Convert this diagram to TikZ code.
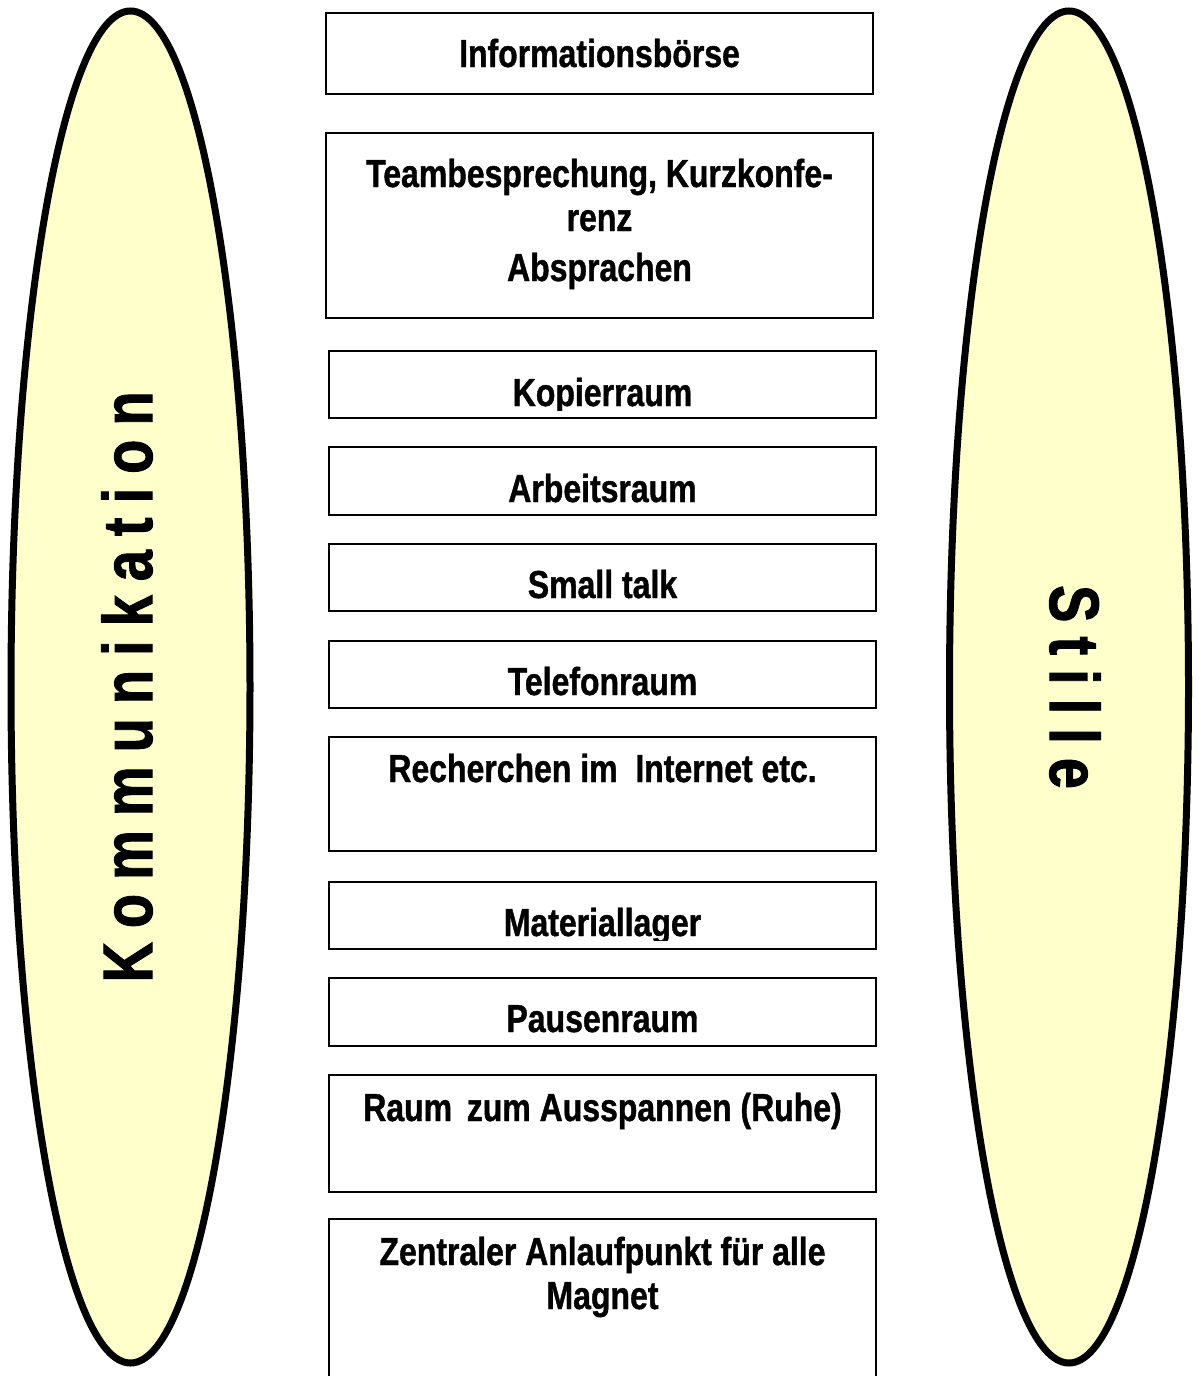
\documentclass[tikz,border=0pt]{standalone}
\usepackage{fontspec}
\usepackage{graphicx}
\usetikzlibrary{shapes.geometric}
\newfontfamily\narrowfont{Liberation Sans}[FakeStretch=0.82, BoldFeatures={FakeBold=1}]
\newfontfamily\spacedfont{Liberation Sans}[LetterSpace=25, BoldFeatures={FakeBold=1.5}]
\definecolor{paleyellow}{RGB}{255,255,204}

\begin{document}
\begin{tikzpicture}[x=0.5pt, y=-0.5pt,
     oval/.style={ellipse, draw, line width=3.5pt, fill=paleyellow, minimum width=119.5pt, minimum height=676pt, inner sep=0pt},
     room/.style={draw, line width=1pt, minimum width=273.5pt, inner sep=0pt},
     roomtext/.style={anchor=base, align=center, inner sep=0pt, font=\narrowfont\bfseries\fontsize{19.5}{22}\selectfont},
     sidetext/.style={inner sep=0pt, font=\spacedfont\bfseries\fontsize{28}{30}\selectfont}]

   \useasboundingbox (0,0) rectangle (1199,1376);

   % the two poles
   \node[oval] (komm) at (130.5,687) {};
   \node[oval] (still) at (1069,687) {};
   \node[sidetext, rotate=90] (kommtext) at (127,687) {\scalebox{1}[1.25]{Kommunikation}};
   \node[sidetext, rotate=-90] (stilltext) at (1075,687) {\scalebox{1}[1.25]{Stille}};

   % the rooms
   \node[room, minimum height=40.5pt] (info) at (599.5,53.5) {};
   \node[roomtext] (infotext) at ([yshift=-27.5pt]info.north) {Informationsbörse};

   \node[room, minimum height=92.5pt] (team) at (599.5,225.5) {};
   \node[roomtext] (teamtext) at ([yshift=-74.5pt]team.north) {Teambesprechung, Kurzkonfe-\\renz\\[3pt]Absprachen};

   \node[room, minimum height=33.5pt] (kopier) at (602.5,384.5) {};
   \begin{scope}
     \clip (kopier.north west) rectangle ([yshift=4.5pt]kopier.south east);
     \node[roomtext] (kopiertext) at ([yshift=-28pt]kopier.north) {Kopierraum};
   \end{scope}

   \node[room, minimum height=34pt] (arbeit) at (602.5,481) {};
   \node[roomtext] (arbeittext) at ([yshift=-28pt]arbeit.north) {Arbeitsraum};

   \node[room, minimum height=33.5pt] (small) at (602.5,577.5) {};
   \node[roomtext] (smalltext) at ([yshift=-27.5pt]small.north) {Small talk};

   \node[room, minimum height=33.5pt] (telefon) at (602.5,674.5) {};
   \node[roomtext] (telefontext) at ([yshift=-27.5pt]telefon.north) {Telefonraum};

   \node[room, minimum height=57pt] (recherche) at (602.5,794) {};
   \node[roomtext] (recherchetext) at ([yshift=-23pt]recherche.north) {Recherchen im \ Internet etc.};

   \node[room, minimum height=33.5pt] (material) at (602.5,915.5) {};
   \begin{scope}
     \clip (material.north west) rectangle ([yshift=5pt]material.south east);
     \node[roomtext] (materialtext) at ([yshift=-27.5pt]material.north) {Materiallager};
   \end{scope}

   \node[room, minimum height=34pt] (pause) at (602.5,1012) {};
   \node[roomtext] (pausetext) at ([yshift=-27.5pt]pause.north) {Pausenraum};

   \node[room, minimum height=58.5pt] (ruhe) at (602.5,1133.5) {};
   \node[roomtext] (ruhetext) at ([yshift=-23.5pt]ruhe.north) {Raum \hspace{0.15em}zum Ausspannen (Ruhe)};

   \node[room, minimum height=85.5pt] (magnet) at (602.5,1304.5) {};
   \node[roomtext] (magnettext) at ([yshift=-45.5pt]magnet.north) {Zentraler Anlaufpunkt für alle\\Magnet};
\end{tikzpicture}
\end{document}
